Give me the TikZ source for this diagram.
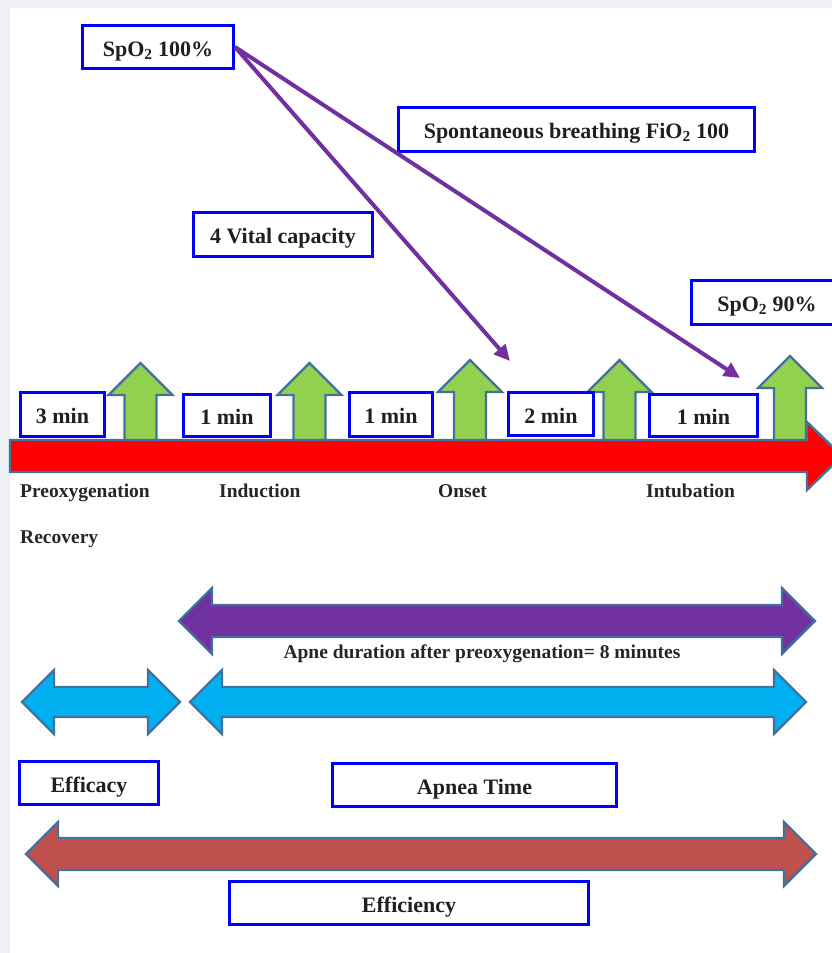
\documentclass[tikz,border=0pt]{standalone}
\usepackage{fontspec}
\setmainfont{Liberation Serif}
\usetikzlibrary{arrows.meta}

\definecolor{pageGray}{RGB}{238,240,246}
\definecolor{boxBlue}{RGB}{0,0,255}
\definecolor{edgeBlue}{RGB}{65,113,156}
\definecolor{lineViolet}{RGB}{112,48,160}
\definecolor{upGreen}{RGB}{146,208,80}
\definecolor{skyBlue}{RGB}{0,176,240}
\definecolor{brick}{RGB}{192,80,77}

% double-headed block arrow: style, left tip, right tip, mid y, shaft half, head half
\newcommand{\dblblock}[6]{%
  \path[#1] (#2,#4) -- ({#2+#6},{#4-#6}) -- ({#2+#6},{#4-#5}) -- ({#3-#6},{#4-#5})
    -- ({#3-#6},{#4-#6}) -- (#3,#4) -- ({#3-#6},{#4+#6}) -- ({#3-#6},{#4+#5})
    -- ({#2+#6},{#4+#5}) -- ({#2+#6},{#4+#6}) -- cycle;}
% upward block arrow standing on the time line: style, mid x, tip y
\newcommand{\upblock}[3]{%
  \path[#1] ({#2-16},440) -- ({#2-16},{#3+32}) -- ({#2-32},{#3+32}) -- (#2,#3)
    -- ({#2+32},{#3+32}) -- ({#2+16},{#3+32}) -- ({#2+16},440) -- cycle;}

\begin{document}
\begin{tikzpicture}[
  x=1pt, y=-1pt,
  font=\fontsize{22}{26}\selectfont\bfseries,
  tbox/.style={draw=boxBlue, line width=3pt, fill=white, text=black!88, inner sep=0pt,
               text height=20pt, text depth=2pt},
  lab/.style={font=\fontsize{19.5}{23}\selectfont\bfseries, text=black!85,
              inner sep=0pt, anchor=base west},
  blk/.style={draw=edgeBlue, line width=2.4pt, line join=miter},
  con/.style={-{Triangle[length=16pt,width=15pt]}, draw=lineViolet, line width=4pt}
]
\useasboundingbox (0,0) rectangle (832,953);
\fill[pageGray] (0,0) rectangle (832,953);
\fill[white] (10,8) rectangle (832,953);

% time line
\path[blk, fill=red] (10,440) -- (807,440) -- (807,422) -- (842,456) -- (807,490)
  -- (807,472) -- (10,472) -- cycle;
\upblock{blk, fill=upGreen}{140.5}{363}
\upblock{blk, fill=upGreen}{309.5}{363}
\upblock{blk, fill=upGreen}{470}{360}
\upblock{blk, fill=upGreen}{619.5}{360}
\upblock{blk, fill=upGreen}{790}{356}

\node[tbox, minimum width=84pt, minimum height=44pt] (t3) at (62.5,414.5) {3 min};
\node[tbox, minimum width=87pt, minimum height=42pt] (t1a) at (227,415.5) {1 min};
\node[tbox, minimum width=83pt, minimum height=44pt] (t1b) at (391,414.5) {1 min};
\node[tbox, minimum width=85pt, minimum height=43pt] (t2) at (551,414) {2 min};
\node[tbox, minimum width=108pt, minimum height=42pt] (t1c) at (703.5,415.5) {1 min};

\node[lab] (preox) at (20,497) {Preoxygenation};
\node[lab] (induct) at (219,497) {Induction};
\node[lab] (onset) at (438,497) {Onset};
\node[lab] (intub) at (646,497) {Intubation};
\node[lab] (recov) at (20,543) {Recovery};

% spans
\dblblock{blk, fill=lineViolet}{179}{815}{621}{16}{33}
\node[lab, anchor=base] (apnedur) at (482,658.5) {Apne duration after preoxygenation= 8 minutes};
\dblblock{blk, fill=skyBlue}{22}{180}{702}{15}{32}
\dblblock{blk, fill=skyBlue}{190}{806}{702}{15}{32}
\node[tbox, minimum width=139pt, minimum height=43pt] (efficacy) at (89,783) {Efficacy};
\node[tbox, minimum width=284pt, minimum height=43pt] (apnea) at (474.5,785) {Apnea Time};
\dblblock{blk, fill=brick}{26}{816}{854}{16}{32}
\node[tbox, minimum width=359pt, minimum height=43pt] (efficiency) at (409,903) {Efficiency};

% saturation course
\node[tbox, minimum width=151pt, minimum height=43pt] (spo2hi) at (158,47) {SpO\textsubscript{2} 100\%};
\node[tbox, minimum width=356pt, minimum height=44pt] (spont) at (576.5,129.5) {Spontaneous breathing FiO\textsubscript{2} 100};
\node[tbox, minimum width=179pt, minimum height=44pt] (vital) at (283,234.5) {4 Vital capacity};
\node[tbox, minimum width=151pt, minimum height=44pt] (spo2lo) at (767,302.5) {SpO\textsubscript{2} 90\%};
\coordinate (onsetTip) at (510,361);
\coordinate (intubTip) at (740,378);
\draw[con] (spo2hi.east) -- (onsetTip);
\draw[con] (spo2hi.east) -- (intubTip);
\end{tikzpicture}
\end{document}
